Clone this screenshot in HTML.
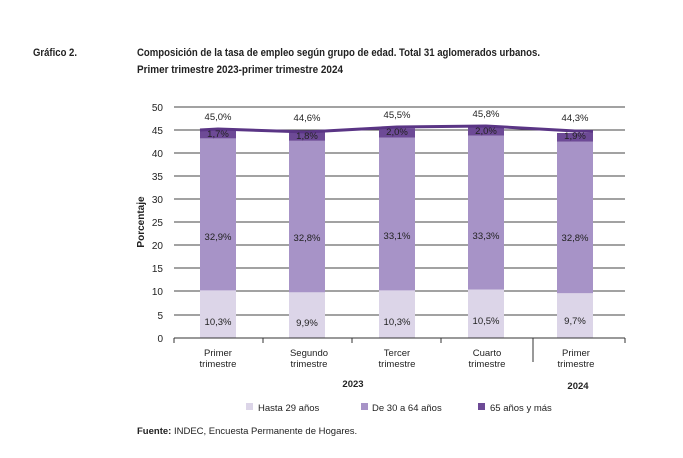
<!DOCTYPE html><html><head><style>body{margin:0;background:#fff}svg{font-family:"Liberation Sans",sans-serif}</style></head><body>
<svg width="683" height="453" xmlns="http://www.w3.org/2000/svg">
<text x="33" y="56" font-size="11" font-weight="bold" fill="#222" textLength="44" lengthAdjust="spacingAndGlyphs">Gráfico 2.</text>
<text x="137" y="56" font-size="11" font-weight="bold" fill="#222" textLength="403" lengthAdjust="spacingAndGlyphs">Composición de la tasa de empleo según grupo de edad. Total 31 aglomerados urbanos.</text>
<text x="137" y="73" font-size="11" font-weight="bold" fill="#222" textLength="206" lengthAdjust="spacingAndGlyphs">Primer trimestre 2023-primer trimestre 2024</text>
<g stroke="#444" stroke-width="1">
<line x1="174" y1="107" x2="625" y2="107"/><line x1="174" y1="130" x2="625" y2="130"/><line x1="174" y1="153" x2="625" y2="153"/><line x1="174" y1="176" x2="625" y2="176"/><line x1="174" y1="199" x2="625" y2="199"/><line x1="174" y1="222" x2="625" y2="222"/><line x1="174" y1="245" x2="625" y2="245"/><line x1="174" y1="268" x2="625" y2="268"/><line x1="174" y1="291" x2="625" y2="291"/><line x1="174" y1="315" x2="625" y2="315"/>
</g>
<g font-size="10" fill="#222" text-anchor="end">
<text x="163" y="111">50</text><text x="163" y="134">45</text><text x="163" y="157">40</text><text x="163" y="180">35</text><text x="163" y="203">30</text><text x="163" y="226">25</text><text x="163" y="249">20</text><text x="163" y="272">15</text><text x="163" y="295">10</text><text x="163" y="319">5</text><text x="163" y="342">0</text>
</g>
<text transform="translate(144,222) rotate(-90)" font-size="10" font-weight="bold" text-anchor="middle" fill="#222">Porcentaje</text>
<g>
<rect x="200" y="290.4" width="36" height="47.6" fill="#dcd5e8"/><rect x="200" y="138.4" width="36" height="152" fill="#a793c7"/><rect x="200" y="130.5" width="36" height="7.9" fill="#6d4a96"/>
<rect x="289" y="292.3" width="36" height="45.7" fill="#dcd5e8"/><rect x="289" y="140.8" width="36" height="151.5" fill="#a793c7"/><rect x="289" y="132.4" width="36" height="8.4" fill="#6d4a96"/>
<rect x="379" y="290.4" width="36" height="47.6" fill="#dcd5e8"/><rect x="379" y="137.5" width="36" height="152.9" fill="#a793c7"/><rect x="379" y="128.3" width="36" height="9.2" fill="#6d4a96"/>
<rect x="468" y="289.5" width="36" height="48.5" fill="#dcd5e8"/><rect x="468" y="135.6" width="36" height="153.9" fill="#a793c7"/><rect x="468" y="126.4" width="36" height="9.2" fill="#6d4a96"/>
<rect x="557" y="293.2" width="36" height="44.8" fill="#dcd5e8"/><rect x="557" y="141.7" width="36" height="151.5" fill="#a793c7"/><rect x="557" y="133" width="36" height="8.7" fill="#6d4a96"/>
</g>
<polyline points="200,130 218,129 307,132 397,127 486,126 575,131 593,131.5" fill="none" stroke="#5a3585" stroke-width="3"/>
<line x1="174" y1="338" x2="625" y2="338" stroke="#333"/>
<g stroke="#333"><line x1="174" y1="338" x2="174" y2="343"/><line x1="263" y1="338" x2="263" y2="343"/><line x1="352" y1="338" x2="352" y2="343"/><line x1="441" y1="338" x2="441" y2="343"/><line x1="533" y1="338" x2="533" y2="362"/><line x1="625" y1="338" x2="625" y2="343"/></g>
<g font-size="9.5" fill="#222" text-anchor="middle">
<text x="218" y="120">45,0%</text><text x="307" y="121">44,6%</text><text x="397" y="118">45,5%</text><text x="486" y="117">45,8%</text><text x="575" y="121">44,3%</text>
<text x="218" y="137">1,7%</text><text x="307" y="139">1,8%</text><text x="397" y="135">2,0%</text><text x="486" y="134">2,0%</text><text x="575" y="139">1,9%</text>
<text x="218" y="240">32,9%</text><text x="307" y="241">32,8%</text><text x="397" y="239">33,1%</text><text x="486" y="239">33,3%</text><text x="575" y="241">32,8%</text>
<text x="218" y="325">10,3%</text><text x="307" y="326">9,9%</text><text x="397" y="325">10,3%</text><text x="486" y="324">10,5%</text><text x="575" y="324">9,7%</text>
<text x="218" y="356">Primer</text><text x="218" y="367">trimestre</text>
<text x="309" y="356">Segundo</text><text x="309" y="367">trimestre</text>
<text x="397" y="356">Tercer</text><text x="397" y="367">trimestre</text>
<text x="487" y="356">Cuarto</text><text x="487" y="367">trimestre</text>
<text x="576" y="356">Primer</text><text x="576" y="367">trimestre</text>
<text x="353" y="387" font-weight="bold">2023</text><text x="578" y="389" font-weight="bold">2024</text>
</g>
<g font-size="9.5" fill="#222">
<rect x="246" y="403" width="7" height="7" fill="#dcd5e8"/><text x="258" y="411">Hasta 29 años</text>
<rect x="361" y="403" width="7" height="7" fill="#a793c7"/><text x="372" y="411">De 30 a 64 años</text>
<rect x="478" y="403" width="7" height="7" fill="#6d4a96"/><text x="490" y="411">65 años y más</text>
<text x="137" y="434"><tspan font-weight="bold">Fuente:</tspan> INDEC, Encuesta Permanente de Hogares.</text>
</g>
</svg></body></html>
